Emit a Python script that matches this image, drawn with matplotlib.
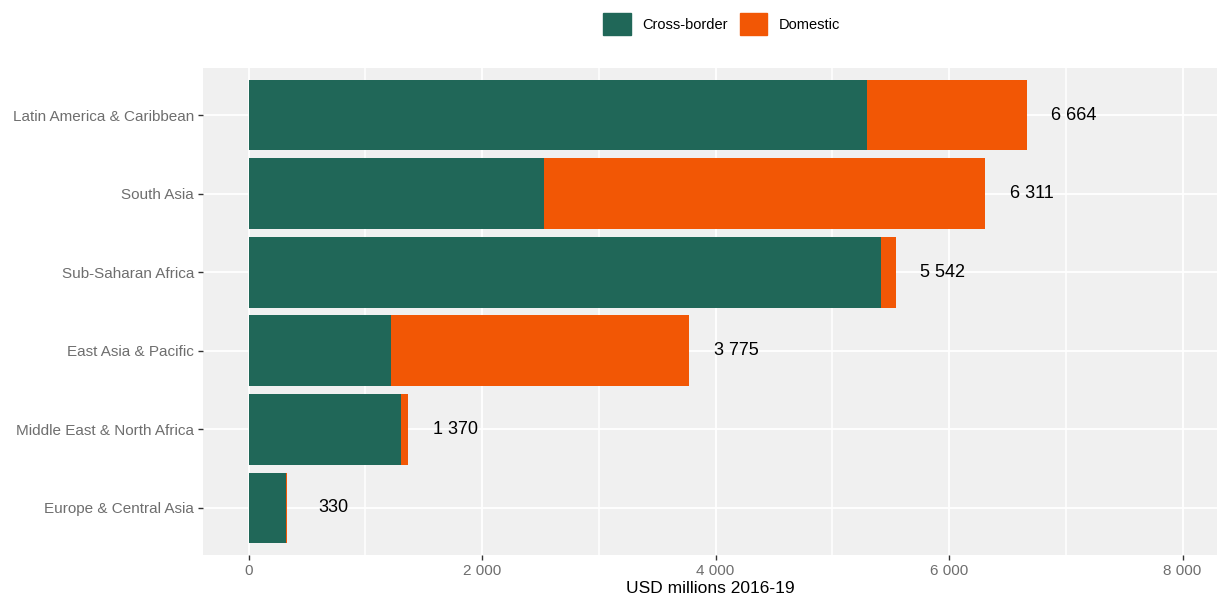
import numpy as np
import matplotlib.pyplot as plt
from matplotlib.patches import Patch
from matplotlib.ticker import MultipleLocator, FuncFormatter

plt.rcParams['font.family'] = ['Liberation Sans', 'DejaVu Sans']

regions = ['Europe & Central Asia', 'Middle East & North Africa', 'East Asia & Pacific',
           'Sub-Saharan Africa', 'South Asia', 'Latin America & Caribbean']
cross_border = [325, 1306, 1221, 5418, 2531, 5298]
domestic = [5, 64, 2554, 124, 3780, 1366]
totals = [330, 1370, 3775, 5542, 6311, 6664]

green = '#206758'
orange = '#F25705'

fig = plt.figure(figsize=(12.17, 5.97), dpi=100)
ax = fig.add_axes([203 / 1217, 1 - 555 / 597, 1 - 203 / 1217, (555 - 68) / 597])
ax.set_facecolor('#F0F0F0')

y = np.arange(len(regions))
ax.barh(y, cross_border, height=0.9, color=green, zorder=3)
ax.barh(y, domestic, left=cross_border, height=0.9, color=orange, zorder=3)

for yi, t in zip(y, totals):
    ax.text(t + 400, yi, '{:,}'.format(t).replace(',', ' '), ha='center', va='center',
            fontsize=13, color='black', zorder=4)

ax.set_xlim(-390, 8295)
ax.set_ylim(-0.6, 5.6)
ax.xaxis.set_major_locator(MultipleLocator(2000))
ax.xaxis.set_minor_locator(MultipleLocator(1000))
ax.xaxis.set_major_formatter(FuncFormatter(lambda v, p: '{:,.0f}'.format(v).replace(',', ' ')))
ax.set_yticks(y)
ax.set_yticklabels(regions)

ax.grid(which='major', color='white', linewidth=1.3, zorder=0)
ax.grid(which='minor', axis='x', color='white', linewidth=1.1, zorder=0)
ax.set_axisbelow(True)
for s in ax.spines.values():
    s.set_visible(False)
ax.tick_params(axis='both', which='major', length=3.5, width=1, color='#333333',
               labelcolor='#6E6E6E', labelsize=11, pad=3)
ax.tick_params(axis='x', which='minor', length=0)
ax.set_xlabel('USD millions 2016-19', fontsize=12.5, labelpad=2)

handles = [Patch(color=green, label='Cross-border'), Patch(color=orange, label='Domestic')]
fig.legend(handles=handles, loc='upper center', bbox_to_anchor=(0.593, 1.0), ncol=2,
           frameon=False, fontsize=10.5, handlelength=1.9, handleheight=1.9,
           columnspacing=0.8, handletextpad=0.8)

fig.savefig('out.png', dpi=100)
